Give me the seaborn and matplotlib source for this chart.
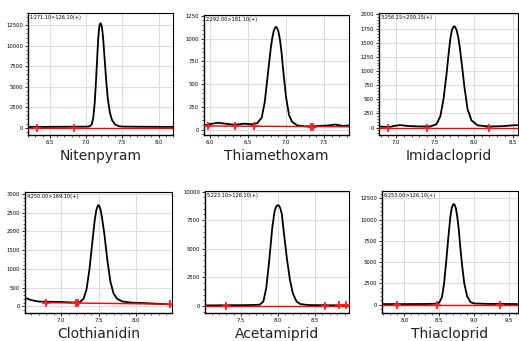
import matplotlib
matplotlib.use("Agg")
import matplotlib.pyplot as plt
import seaborn as sns
import pandas as pd
from matplotlib.ticker import MultipleLocator, AutoMinorLocator

sns.set_style("white")
plt.rcParams['font.family'] = ['DejaVu Sans']

names = ["Nitenpyram", "Thiamethoxam", "Imidacloprid", "Clothianidin", "Acetamiprid", "Thiacloprid"]
headers = ["1:271.10>126.10(+)", "2:292.00>181.10(+)", "3:256.15>209.15(+)",
           "4:250.00>169.10(+)", "5:223.10>126.10(+)", "6:253.00>126.10(+)"]

# retention time (min) / intensity
nit_x = [6.2, 6.4, 6.6, 6.8, 7.0, 7.05, 7.08, 7.10, 7.12, 7.14, 7.16, 7.17, 7.18, 7.19, 7.20, 7.21, 7.22, 7.23, 7.24, 7.26, 7.28, 7.30, 7.33, 7.36, 7.40, 7.45, 7.5, 7.7, 7.9, 8.2]
nit_y = [80, 90, 100, 110, 120, 150, 400, 1200, 3000, 6000, 9500, 11000, 12100, 12600, 12750, 12600, 12200, 11500, 10500, 8000, 5600, 3600, 1800, 900, 400, 180, 130, 110, 100, 90]

thm_x = [5.92, 6.0, 6.1, 6.2, 6.3, 6.35, 6.45, 6.55, 6.62, 6.68, 6.72, 6.76, 6.80, 6.82, 6.84, 6.86, 6.87, 6.88, 6.90, 6.92, 6.94, 6.96, 7.00, 7.04, 7.08, 7.15, 7.25, 7.4, 7.55, 7.65, 7.75, 7.83]
thm_y = [45, 60, 75, 65, 55, 55, 65, 58, 70, 130, 300, 600, 900, 1010, 1090, 1125, 1130, 1120, 1080, 990, 860, 680, 360, 160, 85, 45, 35, 38, 45, 55, 40, 45]

imi_x = [6.78, 6.9, 7.0, 7.05, 7.15, 7.3, 7.45, 7.52, 7.57, 7.61, 7.65, 7.68, 7.70, 7.72, 7.74, 7.75, 7.76, 7.78, 7.80, 7.82, 7.85, 7.88, 7.92, 7.97, 8.05, 8.2, 8.35, 8.5, 8.57]
imi_y = [20, 10, 35, 45, 30, 20, 25, 60, 200, 500, 950, 1350, 1580, 1730, 1785, 1790, 1780, 1720, 1600, 1420, 1080, 720, 330, 130, 40, 20, 25, 40, 45]

clo_x = [6.52, 6.6, 6.7, 6.85, 7.0, 7.15, 7.25, 7.3, 7.34, 7.38, 7.42, 7.45, 7.47, 7.49, 7.50, 7.51, 7.53, 7.55, 7.58, 7.62, 7.66, 7.70, 7.75, 7.82, 7.95, 8.1, 8.25, 8.4, 8.48]
clo_y = [230, 170, 130, 125, 120, 105, 120, 200, 450, 1000, 1750, 2300, 2560, 2680, 2700, 2680, 2560, 2320, 1900, 1200, 650, 350, 200, 130, 100, 90, 75, 60, 55]

ace_x = [7.01, 7.2, 7.4, 7.6, 7.75, 7.8, 7.84, 7.88, 7.92, 7.95, 7.97, 7.99, 8.00, 8.01, 8.03, 8.05, 8.08, 8.12, 8.16, 8.20, 8.25, 8.30, 8.4, 8.6, 8.8, 8.96]
ace_y = [60, 70, 80, 90, 120, 400, 1600, 4000, 6800, 8200, 8650, 8800, 8810, 8780, 8550, 8050, 6300, 4100, 2300, 1100, 400, 180, 100, 80, 70, 70]

thc_x = [7.68, 7.9, 8.1, 8.3, 8.45, 8.5, 8.54, 8.57, 8.60, 8.63, 8.66, 8.68, 8.70, 8.71, 8.72, 8.74, 8.76, 8.78, 8.80, 8.83, 8.86, 8.90, 8.95, 9.0, 9.2, 9.4, 9.63]
thc_y = [80, 70, 80, 90, 120, 250, 900, 2500, 5000, 7800, 10300, 11350, 11780, 11820, 11760, 11300, 10300, 8900, 7000, 4500, 2500, 1000, 300, 150, 100, 90, 80]

# integration baselines (red) and peak markers
base_x = [[6.2, 8.2], [5.92, 7.83], [6.78, 8.57], [6.8, 8.45], [7.01, 8.96], [7.68, 9.63]]
base_y = [[0, 0], [40, 30], [0, 0], [100, 60], [0, 0], [0, 0]]
mark_x = [[6.33, 6.83], [5.97, 6.33, 6.58, 7.33, 7.36], [6.9, 7.4, 8.2], [6.8, 7.2, 7.23, 8.45], [7.3, 8.63, 8.83, 8.92], [7.9, 8.47, 9.37]]
mark_y = [[0, 0], [38, 36, 35, 31, 31], [0, 0, 0], [100, 90, 90, 60], [0, 0, 60, 60], [0, 0, 0]]

curves_x = [nit_x, thm_x, imi_x, clo_x, ace_x, thc_x]
curves_y = [nit_y, thm_y, imi_y, clo_y, ace_y, thc_y]

xlims = [(6.2, 8.2), (5.92, 7.83), (6.78, 8.57), (6.52, 8.48), (7.01, 8.96), (7.68, 9.63)]
ylims = [(-900, 14000), (-60, 1260), (-130, 2025), (-175, 3050), (-600, 10050), (-970, 13350)]
ysteps = [2500, 250, 250, 500, 2500, 2500]

# axes boxes in pixels: left, top, right, bottom
boxes = [(28, 13, 173, 135), (204, 15, 349, 135), (379, 13, 518, 135),
         (25, 192, 172, 313), (205, 191, 349, 313), (382, 191, 518, 313)]

W, H = 519, 341
fig = plt.figure(figsize=(W / 100, H / 100), dpi=100)

for i in range(6):
    l, t, r, b = boxes[i]
    ax = fig.add_axes([l / W, 1 - b / H, (r - l) / W, (b - t) / H])
    df = pd.DataFrame({"t": curves_x[i], "I": curves_y[i]})
    sns.lineplot(data=df, x="t", y="I", ax=ax, color="black", lw=1.3, zorder=3)
    bdf = pd.DataFrame({"t": base_x[i], "I": base_y[i]})
    sns.lineplot(data=bdf, x="t", y="I", ax=ax, color="#ff0000", lw=1.0, zorder=4)
    mdf = pd.DataFrame({"t": mark_x[i], "I": mark_y[i]})
    sns.scatterplot(data=mdf, x="t", y="I", ax=ax, color="#ff2020", marker="+", s=26,
                    linewidth=1.3, zorder=5)
    sns.scatterplot(data=mdf, x="t", y="I", ax=ax, color="#ff2020", marker="*", s=12,
                    linewidth=0, zorder=5)
    ax.set_xlim(*xlims[i])
    ax.set_ylim(*ylims[i])
    ax.xaxis.set_major_locator(MultipleLocator(0.5))
    ax.xaxis.set_minor_locator(MultipleLocator(0.1))
    ax.yaxis.set_major_locator(MultipleLocator(ysteps[i]))
    ax.yaxis.set_minor_locator(AutoMinorLocator(5))
    ax.xaxis.set_major_formatter(plt.FuncFormatter(lambda v, p: f"{v:.1f}"))
    ax.grid(True, which="major", color="#dcdcdc", lw=0.8, zorder=0)
    ax.tick_params(axis="both", which="major", labelsize=3.8, length=2.5, width=0.6,
                   pad=1, colors="black", direction="out", bottom=True, left=True)
    ax.tick_params(axis="both", which="minor", length=1.5, width=0.5, bottom=True, left=True)
    for s in ax.spines.values():
        s.set_color("black")
        s.set_linewidth(0.8)
    ax.spines["left"].set_linewidth(1.0)
    ax.spines["bottom"].set_linewidth(1.0)
    ax.set_ylabel("")
    ax.set_xlabel(names[i], fontsize=10, labelpad=3, color="#222222")
    ax.text(0.01, 0.985, headers[i], transform=ax.transAxes, fontsize=3.6,
            va="top", ha="left", color="black", zorder=6)

fig.savefig("out.png", dpi=100)
